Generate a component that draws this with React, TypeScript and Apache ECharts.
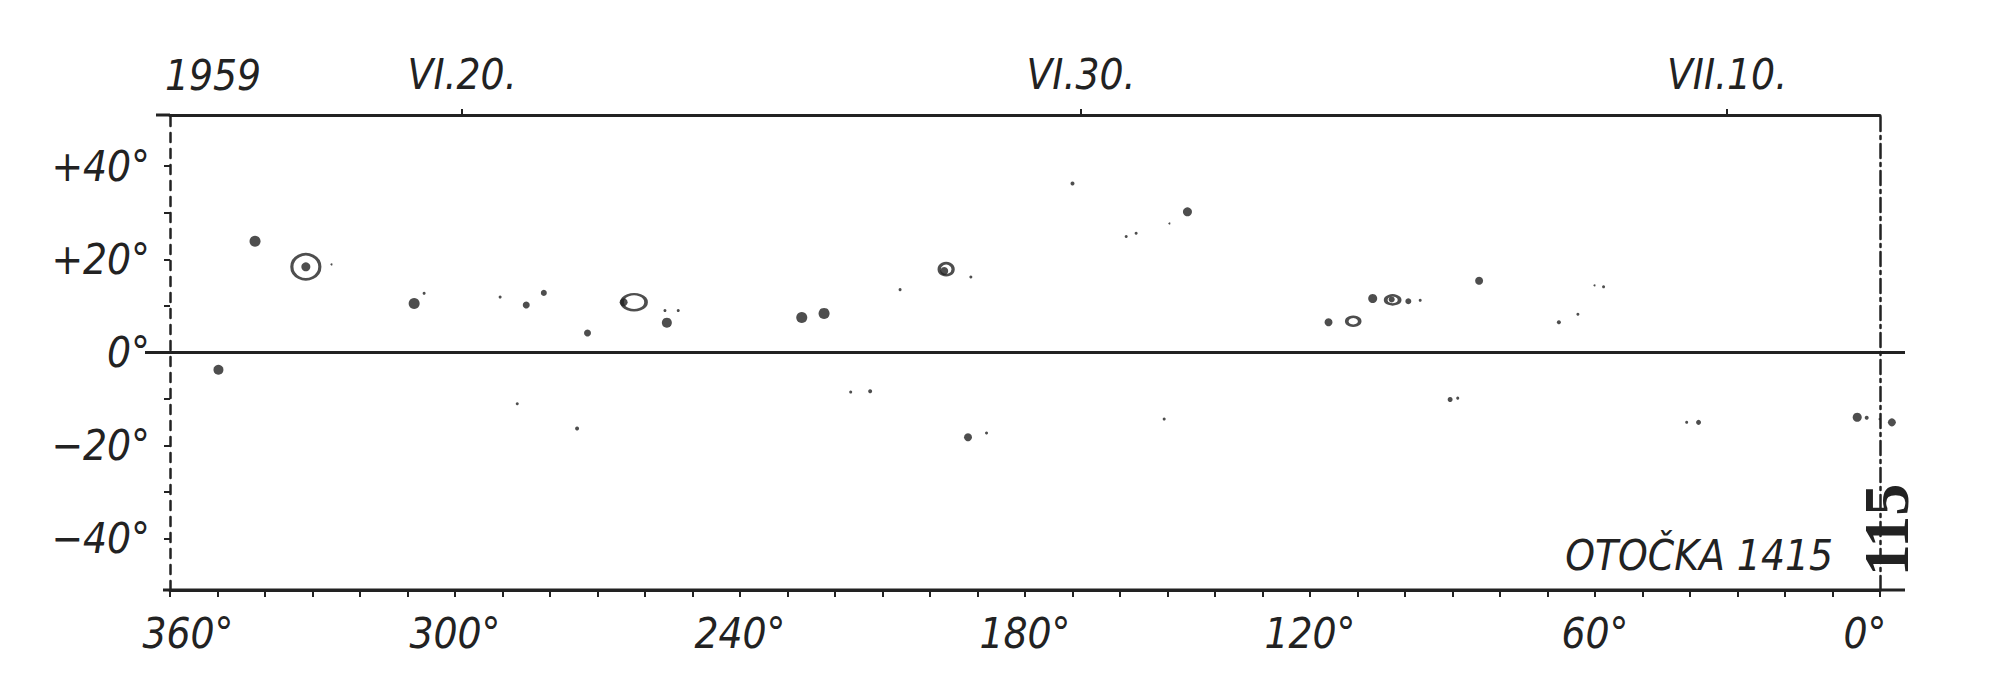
import React, { useEffect, useRef } from "react";
import * as echarts from "echarts";

// ---- data (heliographic longitude / latitude in degrees, marker size in px) ----
const spotLon = [342.1, 331.4, 326.0, 308.6, 306.5, 349.8, 290.5, 285.0, 281.3, 272.1, 264.5, 255.8, 253.0, 255.4, 286.9, 274.3, 227.0, 222.3, 206.3, 197.0, 191.4, 216.7, 212.6, 192.0, 188.1, 170.0, 158.7, 156.6, 149.6, 145.8, 150.7, 116.1, 106.8, 102.8, 99.3, 96.8, 84.4, 67.6, 63.6, 60.1, 58.2, 90.5, 88.9, 40.7, 38.2, 4.8, 2.8, 0.1, -2.5];
const spotLat = [23.9, 18.4, 18.9, 10.5, 12.7, -3.7, 11.9, 10.2, 12.8, 4.2, 10.8, 9.0, 9.0, 6.4, -11.0, -16.3, 7.5, 8.4, 13.5, 17.5, 16.2, -8.5, -8.3, -18.2, -17.3, 36.3, 24.9, 25.6, 27.7, 30.2, -14.3, 6.5, 11.6, 11.4, 11.0, 11.2, 15.4, 6.5, 8.2, 14.4, 14.1, -10.1, -9.8, -15.0, -15.0, -13.9, -14.0, -14.3, -15.0];
const spotSize = [11, 9, 2, 11, 3, 10, 3, 7, 6, 7, 8, 3, 3, 10, 3, 4, 11, 11, 3, 8, 3, 3, 4, 8, 3, 4, 3, 3, 2, 9, 3, 8, 9, 6, 6, 3, 8, 4, 3, 2, 3, 5, 3, 3, 5, 9, 4, 2, 8];

const penLon = [331.4, 262.3, 196.6, 110.9, 102.6];
const penLat = [18.4, 10.8, 17.9, 6.7, 11.3];
const penW = [28, 24, 14, 13, 14];
const penH = [25, 16, 12, 9, 9];

const xLabelValues = [360, 300, 240, 180, 120, 60, 0];
const yLabelValues = [-40, -20, 0, 20, 40];
const yTickValues = [-40, -30, -20, -10, 0, 10, 20, 30, 40];
const dateLongitudes = [298.5, 168.2, 32.2];
const dateLabels = ["VI.20.", "VI.30.", "VII.10."];
const yearText = "1959";
const rotationText = "OTOČKA 1415";
const pageText = "115";

// ---- styles ----
const INK = "#222222";
const FONT = "'Liberation Sans Narrow', 'DejaVu Sans Condensed', 'DejaVu Sans', sans-serif";
const lineStyle = { color: INK, width: 3 };

export default function App() {
  const ref = useRef<HTMLDivElement>(null);

  useEffect(() => {
    if (!ref.current) return;
    const chart = echarts.init(ref.current, null, { renderer: "svg" });

    const labelStyle = {
      fontFamily: FONT,
      fontStyle: "italic" as const,
      fontSize: 42,
      color: INK,
    };

    const spotData = spotLon.map((l, i) => [l, spotLat[i], spotSize[i]]);
    const penData = penLon.map((l, i) => [l, penLat[i], penW[i], penH[i]]);

    chart.setOption({
      animation: false,
      backgroundColor: "#ffffff",
      title: {
        text: yearText,
        left: 165,
        top: 54,
        padding: 0,
        textStyle: { ...labelStyle, fontWeight: "normal" },
      },
      grid: { left: 170, right: 120, top: 115, bottom: 106 },
      xAxis: [
        {
          type: "value",
          min: 0,
          max: 360,
          interval: 10,
          inverse: true,
          position: "bottom",
          axisLine: { show: true, onZero: false, lineStyle },
          axisTick: { show: true, length: 7, lineStyle: { color: INK, width: 2 } },
          axisLabel: {
            customValues: xLabelValues,
            formatter: (v: number) =>
              v === 360 ? `{first|${v}°}` : v === 0 ? `{last|${v}°}` : `${v}°`,
            margin: 22,
            ...labelStyle,
            rich: {
              first: { ...labelStyle, padding: [0, 0, 0, 36] },
              last: { ...labelStyle, padding: [0, 30, 0, 0] },
            },
          },
          splitLine: { show: false },
        },
        {
          type: "value",
          min: 0,
          max: 360,
          inverse: true,
          position: "top",
          axisLine: { show: true, onZero: false, lineStyle },
          axisTick: {
            show: true,
            customValues: dateLongitudes,
            length: 6,
            lineStyle: { color: INK, width: 2 },
          },
          axisLabel: {
            customValues: dateLongitudes,
            formatter: (v: number) => {
              const i = dateLongitudes.findIndex((d) => Math.abs(d - v) < 0.01);
              return i >= 0 ? dateLabels[i] : "";
            },
            margin: 20,
            ...labelStyle,
          },
          splitLine: { show: false },
        },
      ],
      yAxis: [
        {
          type: "value",
          min: -51,
          max: 51,
          position: "left",
          axisLine: { show: true, onZero: false, lineStyle: { color: INK, width: 2.5, type: [9, 7] } },
          axisTick: {
            show: true,
            customValues: yTickValues,
            length: 6,
            lineStyle: { color: INK, width: 2 },
          },
          axisLabel: {
            customValues: yLabelValues,
            formatter: (v: number) => (v > 0 ? `+${v}°` : v < 0 ? `−${Math.abs(v)}°` : "0°"),
            margin: 20,
            ...labelStyle,
          },
          splitLine: { show: false },
        },
        {
          type: "value",
          min: -51,
          max: 51,
          position: "right",
          axisLine: { show: true, onZero: false, lineStyle: { color: INK, width: 2.5, type: [14, 5, 3, 5] } },
          axisTick: { show: false },
          axisLabel: { show: false },
          splitLine: { show: false },
        },
      ],
      series: [
        {
          type: "scatter",
          name: "penumbra",
          xAxisIndex: 0,
          yAxisIndex: 0,
          clip: false,
          symbol: "circle",
          symbolSize: (v: number[]) => [v[2], v[3]],
          itemStyle: { color: "rgba(0,0,0,0)", borderColor: INK, borderWidth: 3 },
          data: penData,
        },
        {
          type: "scatter",
          name: "umbra",
          xAxisIndex: 0,
          yAxisIndex: 0,
          clip: false,
          symbol: "circle",
          symbolSize: (v: number[]) => v[2],
          itemStyle: { color: INK },
          data: spotData,
        },
      ],
    });

    const pL = chart.convertToPixel({ xAxisIndex: 0, yAxisIndex: 0 }, [360, 0]) as number[];
    const pR = chart.convertToPixel({ xAxisIndex: 0, yAxisIndex: 0 }, [0, 0]) as number[];
    const pB = chart.convertToPixel({ xAxisIndex: 0, yAxisIndex: 0 }, [0, -51]) as number[];
    const pBL = chart.convertToPixel({ xAxisIndex: 0, yAxisIndex: 0 }, [360, -51]) as number[];
    const pT = chart.convertToPixel({ xAxisIndex: 0, yAxisIndex: 0 }, [360, 51]) as number[];

    chart.setOption({
      graphic: [
        {
          type: "line",
          shape: { x1: pL[0] - 25, y1: pL[1], x2: pR[0] + 25, y2: pR[1] },
          style: { stroke: INK, lineWidth: 3 },
          silent: true,
        },
        {
          type: "line",
          shape: { x1: pBL[0] - 7, y1: pB[1], x2: pB[0] + 25, y2: pB[1] },
          style: { stroke: INK, lineWidth: 3 },
          silent: true,
        },
        {
          type: "line",
          shape: { x1: pT[0] - 14, y1: pT[1], x2: pT[0], y2: pT[1] },
          style: { stroke: INK, lineWidth: 3 },
          silent: true,
        },
        {
          type: "text",
          x: pR[0] - 47,
          y: pB[1] - 14,
          style: {
            text: rotationText,
            align: "right",
            verticalAlign: "bottom",
            fontFamily: FONT,
            fontStyle: "italic",
            fontSize: 42,
            fill: INK,
          },
          silent: true,
        },
        {
          type: "text",
          x: pR[0] + 6,
          y: pB[1] - 60,
          rotation: Math.PI / 2,
          style: {
            text: pageText,
            align: "center",
            verticalAlign: "middle",
            fontFamily: "'Liberation Serif', 'DejaVu Serif', serif",
            fontWeight: "bold",
            fontSize: 64,
            fill: INK,
          },
          silent: true,
        },
      ],
    });

    return () => chart.dispose();
  }, []);

  return (
    <div
      ref={ref}
      style={{ position: "fixed", left: 0, top: 0, width: 2000, height: 696, background: "#fff" }}
    />
  );
}
